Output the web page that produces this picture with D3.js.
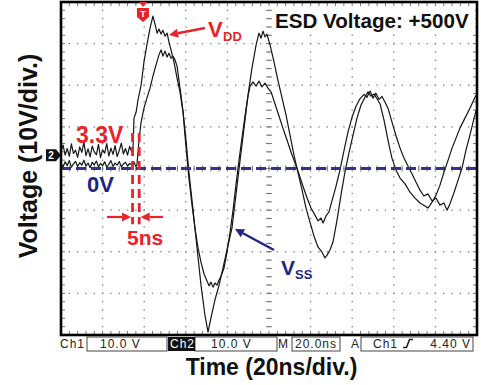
<!DOCTYPE html>
<html>
<head>
<meta charset="utf-8">
<script src="https://cdn.jsdelivr.net/npm/d3@7"></script>
<style>
  body { margin: 0; background: #fff; }
  svg { display: block; font-family: "Liberation Sans", Arial, sans-serif; }
</style>
</head>
<body>
<svg id="chart" width="481" height="385"></svg>
<script>
// scope settings: 20 ns/div over 10 div, 10 V/div over 8 div
const timeDomain = [0, 200];
const voltDomain = [-40, 40];
const majorTime = 20, minorTime = 4;
const majorVolt = 10, minorVolt = 2;

// VDD trace (starts at 3.3 V, rises first) : [ns, V]
const traceVdd = [
  [0,4.1],[1,5.6],[2,3.2],[3,4.8],[4,2.9],[5,5.9],[6,3.6],[7,4.4],[8,2.7],[9,5.2],
  [10,3.9],[11,6.3],[12,3.1],[13,4.7],[14,2.8],[15,5.4],[16,4.0],[17,3.3],[18,5.8],[19,2.6],
  [20,4.5],[21,3.7],[22,6.0],[23,3.0],[24,4.9],[25,3.4],[26,5.5],[27,2.9],[28,4.3],[29,6.1],
  [30,3.5],[31,4.8],[32,3.2],[33,5.3],[34,4.0],
  [34.6,4.4],[35.1,12.1],[36.1,13.5],[37.0,16.4],[38.5,20.0],[39.9,25.6],[41.3,29.7],[42.8,33.7],
  [44.2,36.6],[45.2,34.7],[46.2,32.5],[47.1,33.5],[48.1,32.3],[49.0,33.2],[50.0,31.8],[51.0,32.5],
  [51.9,30.4],[52.9,28.5],[54.3,25.6],[55.8,21.7],[57.2,18.4],[58.7,13.5],[60.1,6.8],[61.5,-0.9],
  [63.5,-10.0],[65.4,-19.1],[67.3,-28.0],[69.2,-35.2],[70.7,-39.3],[72.1,-35.9],[74.0,-31.6],
  [76.0,-28.0],[77.9,-23.9],[80.3,-18.4],[82.2,-14.3],[84.1,-6.4],[86.1,2.0],[88.0,9.7],
  [89.9,17.6],[91.8,24.1],[93.8,29.7],[95.2,32.5],[96.2,31.3],[97.1,33.0],[98.1,31.6],[99.0,32.3],
  [100.5,29.7],[102.4,25.6],[104.3,21.2],[106.3,16.9],[108.2,12.8],[110.1,8.0],[112.0,3.2],
  [113.9,-0.9],[115.9,-5.2],[117.8,-9.5],[119.7,-12.9],[121.6,-16.2],[123.6,-18.9],[125.5,-20.1],
  [126.9,-21.5],[127.9,-20.8],[129.3,-19.6],[130.8,-17.6],[132.7,-12.4],[134.6,-6.4],[136.5,-0.9],
  [138.5,3.9],[140.4,8.0],[142.3,12.1],[144.2,15.2],[146.2,17.2],[147.6,18.4],[149.0,17.4],
  [150.5,17.9],[152.0,16.7],[153.4,15.5],[155.3,11.6],[157.2,6.8],[159.1,2.5],[161.1,-0.4],
  [163.0,-2.3],[165.4,-3.7],[167.8,-5.7],[170.2,-7.1],[172.6,-8.3],[175.0,-9.0],[176.4,-9.5],
  [178.4,-8.1],[180.3,-6.4],[182.2,-4.0],[184.1,-0.9],[186.1,2.0],[188.0,4.9],[189.9,7.3],
  [191.8,9.7],[194.2,12.1],[196.6,14.5],[199.5,17.6]
];

// VSS trace (starts at 0 V, about 5 ns later) : [ns, V]
const traceVss = [
  [0,1.2],[1,0.4],[2,1.6],[3,0.7],[4,1.9],[5,0.3],[6,1.1],[7,1.7],[8,0.5],[9,1.4],
  [10,0.8],[11,2.0],[12,0.6],[13,1.3],[14,0.2],[15,1.5],[16,0.9],[17,1.8],[18,0.4],[19,1.2],
  [20,0.7],[21,1.6],[22,0.3],[23,1.0],[24,1.9],[25,0.5],[26,1.3],[27,0.8],[28,1.7],[29,0.4],
  [30,1.1],[31,1.5],[32,0.6],[33,1.2],[34,0.9],[35,1.6],[36,0.5],
  [36.5,0.8],[37.5,6.8],[38.5,11.1],[39.9,14.5],[41.3,16.9],[42.8,19.3],[44.2,22.2],[45.7,24.9],
  [47.1,27.3],[48.1,28.5],[49.0,27.0],[50.0,28.2],[51.0,26.8],[51.9,27.7],[52.9,26.5],[53.8,27.0],
  [54.8,26.1],[55.8,24.6],[56.7,21.2],[57.7,17.6],[58.7,13.5],[59.6,8.0],[60.6,2.5],[61.5,-2.3],
  [63.0,-8.8],[64.4,-14.3],[65.9,-19.1],[67.3,-22.5],[68.8,-25.4],[70.2,-27.0],[71.2,-28.2],
  [72.1,-27.3],[73.1,-28.5],[74.0,-27.5],[75.0,-28.0],[76.0,-26.8],[76.9,-25.9],[78.4,-23.9],
  [79.8,-20.1],[81.3,-15.3],[82.7,-10.0],[84.1,-4.0],[85.6,2.0],[87.0,7.3],[88.5,12.8],[89.9,17.4],
  [90.9,19.8],[92.3,20.8],[93.8,19.8],[95.2,21.0],[96.6,19.6],[98.1,20.5],[99.5,19.3],[101.0,18.4],
  [102.9,15.5],[104.8,12.6],[106.7,9.7],[108.7,6.8],[110.6,3.9],[112.5,1.3],[114.4,-1.3],
  [116.3,-4.2],[118.3,-7.1],[120.2,-9.5],[122.1,-11.2],[123.6,-12.6],[125.0,-11.9],[126.0,-13.1],
  [127.4,-11.4],[128.8,-10.5],[130.3,-7.7],[132.2,-4.3],[134.1,-0.4],[136.1,4.4],[138.0,8.8],
  [139.9,12.3],[141.8,14.9],[143.8,16.8],[145.7,17.8],[147.1,17.1],[148.6,18.6],[150.0,16.9],
  [151.4,18.1],[152.9,16.6],[154.3,17.3],[155.8,15.9],[157.2,14.5],[159.1,11.2],[161.1,7.8],
  [163.0,4.9],[164.9,2.5],[166.8,0.6],[168.8,-1.3],[170.7,-3.3],[172.6,-5.2],[174.5,-6.6],
  [176.4,-6.1],[178.4,-7.8],[180.3,-7.1],[182.2,-8.8],[184.1,-8.3],[185.6,-10.0],[187.0,-8.5],
  [189.0,-5.7],[190.9,-2.8],[192.8,0.1],[194.7,4.4],[196.6,8.0],[198.6,12.1],[200,14.7]
];

// annotation values
const triggerTime = 39.4;
const ch2Level = 3.2;
const delayMarks = [34.4, 37.6];    // the two red dashed lines (5 ns)
const delayRange = [8.5, -13.4];    // volts spanned by them
const statusLabels = ["Ch1", "10.0 V", "Ch2", "10.0 V", "M", "20.0ns", "A", "Ch1", "4.40 V"];

const RED = "#e8232a", NAVY = "#1f2585", BLUE = "#2a3594";

const svg = d3.select("#chart");
const x = d3.scaleLinear().domain(timeDomain).range([61, 477]);
const y = d3.scaleLinear().domain(voltDomain).range([335, 2]);
const [x0, x1] = x.range(), [y0, y1] = [y(voltDomain[1]), y(voltDomain[0])];

const majorT = d3.range(timeDomain[0], timeDomain[1] + 1, majorTime);
const minorT = d3.range(timeDomain[0], timeDomain[1] + 1, minorTime);
const majorV = d3.range(voltDomain[0], voltDomain[1] + 1, majorVolt);
const minorV = d3.range(voltDomain[0], voltDomain[1] + 1, minorVolt);

// dotted graticule
const dots = [];
majorT.slice(1, -1).forEach(t => minorV.forEach(v => dots.push([t, v])));
majorV.slice(1, -1).forEach(v => minorT.forEach(t => dots.push([t, v])));
svg.append("g").selectAll("rect").data(dots).join("rect")
  .attr("x", d => x(d[0]) - 0.7).attr("y", d => y(d[1]) - 0.7)
  .attr("width", 1.4).attr("height", 1.4).attr("fill", "#8a8a8a");

// minor ticks on centre lines and frame
const tickG = svg.append("g").attr("stroke", "#777").attr("stroke-width", 1);
const tc = x(100), vc = y(0);
minorV.forEach(v => {
  tickG.append("line").attr("x1", tc - 3).attr("x2", tc + 3).attr("y1", y(v)).attr("y2", y(v));
  tickG.append("line").attr("x1", x0).attr("x2", x0 + 4).attr("y1", y(v)).attr("y2", y(v));
  tickG.append("line").attr("x1", x1 - 4).attr("x2", x1).attr("y1", y(v)).attr("y2", y(v));
});
minorT.forEach(t => {
  tickG.append("line").attr("x1", x(t)).attr("x2", x(t)).attr("y1", vc - 3).attr("y2", vc + 3);
  tickG.append("line").attr("x1", x(t)).attr("x2", x(t)).attr("y1", y1 - 4).attr("y2", y1);
  tickG.append("line").attr("x1", x(t)).attr("x2", x(t)).attr("y1", y0).attr("y2", y0 + 4);
});

// traces
const line = d3.line().x(d => x(d[0])).y(d => y(d[1]));
[traceVss, traceVdd].forEach(tr => {
  svg.append("path").datum(tr).attr("d", line)
    .attr("fill", "none").attr("stroke", "#151515").attr("stroke-width", 1.2)
    .attr("stroke-linejoin", "round");
});

// 0 V reference line
svg.append("line").attr("x1", x0).attr("x2", x1).attr("y1", y(0)).attr("y2", y(0))
  .attr("stroke", BLUE).attr("stroke-width", 3).attr("stroke-dasharray", "10,5");

// frame
svg.append("rect").attr("x", x0).attr("y", y0).attr("width", x1 - x0).attr("height", y1 - y0)
  .attr("fill", "none").attr("stroke", "#000").attr("stroke-width", 2.6);

// red 5 ns markers
delayMarks.forEach(t => {
  svg.append("line").attr("x1", x(t)).attr("x2", x(t))
    .attr("y1", y(delayRange[0])).attr("y2", y(delayRange[1]))
    .attr("stroke", RED).attr("stroke-width", 2.8).attr("stroke-dasharray", "9,5");
});

function arrow(xa, ya, xb, yb, color, w) {
  // line from (xa,ya) to head at (xb,yb)
  const ang = Math.atan2(yb - ya, xb - xa), L = 9, H = 4.5;
  const bx = xb - L * Math.cos(ang), by = yb - L * Math.sin(ang);
  svg.append("line").attr("x1", xa).attr("y1", ya).attr("x2", bx).attr("y2", by)
    .attr("stroke", color).attr("stroke-width", w);
  svg.append("path").attr("fill", color).attr("d",
    `M${xb},${yb}L${bx - H * Math.sin(ang)},${by + H * Math.cos(ang)}L${bx + H * Math.sin(ang)},${by - H * Math.cos(ang)}Z`);
}
const ay = 217;
arrow(107, ay, x(delayMarks[0]) - 1.5, ay, RED, 2.2);
arrow(163, ay, x(delayMarks[1]) + 1.5, ay, RED, 2.2);
arrow(205, 28, 169, 35, RED, 2.4);
arrow(274, 250, 235, 229, NAVY, 2.4);

// text labels
function label(txt, px, py, size, color, anchor) {
  return svg.append("text").attr("x", px).attr("y", py).attr("font-size", size)
    .attr("font-weight", "bold").attr("fill", color).attr("text-anchor", anchor || "start").text(txt);
}
label("3.3V", 76, 143, 23, RED);
label("0V", 87, 192, 22, NAVY);
label("5ns", 127, 245, 21, RED);
label("V", 208, 37, 22, RED);
label("DD", 223, 41, 13, RED);
label("V", 281, 275, 21, NAVY);
label("SS", 295, 279, 13, NAVY);

svg.append("rect").attr("x", 272).attr("y", 9).attr("width", 203).attr("height", 22).attr("fill", "#fff");
label("ESD Voltage: +500V", 275, 28, 20.6, "#111");

// trigger marker
const tx = x(triggerTime);
svg.append("path").attr("fill", RED)
  .attr("d", `M${tx - 4},2H${tx + 4}L${tx},7Z M${tx - 6},8H${tx + 6}V17L${tx},22L${tx - 6},17Z`);
svg.append("text").attr("x", tx).attr("y", 17).attr("font-size", 9).attr("font-weight", "bold")
  .attr("fill", "#fff").attr("text-anchor", "middle").text("T");

// ch2 ground marker
const cy = y(ch2Level);
svg.append("path").attr("fill", "#111")
  .attr("d", `M46,${cy - 6}H56L${x0},${cy}L56,${cy + 6}H46Z`);
svg.append("text").attr("x", 51).attr("y", cy + 4).attr("font-size", 10).attr("font-weight", "bold")
  .attr("fill", "#fff").attr("text-anchor", "middle").text("2");

// status bar
const sb = svg.append("g").attr("font-size", 12).attr("fill", "#222").attr("letter-spacing", 1);
const by0 = 337, bh = 14, bt = 348;
[[87, 167], [195, 277], [292, 340], [361, 473]].forEach(([a, b]) => {
  sb.append("rect").attr("x", a).attr("y", by0).attr("width", b - a).attr("height", bh)
    .attr("fill", "none").attr("stroke", "#444").attr("stroke-width", 1);
});
sb.append("rect").attr("x", 168).attr("y", by0).attr("width", 27).attr("height", bh).attr("fill", "#111");
sb.append("text").attr("x", 60).attr("y", bt).text(statusLabels[0]);
sb.append("text").attr("x", 100).attr("y", bt).text(statusLabels[1]);
sb.append("text").attr("x", 170).attr("y", bt).attr("fill", "#fff").text(statusLabels[2]);
sb.append("text").attr("x", 211).attr("y", bt).text(statusLabels[3]);
sb.append("text").attr("x", 278).attr("y", bt).attr("letter-spacing", 0).text(statusLabels[4]);
sb.append("text").attr("x", 295).attr("y", bt).text(statusLabels[5]);
sb.append("text").attr("x", 351).attr("y", bt).text(statusLabels[6]);
sb.append("text").attr("x", 373).attr("y", bt).text(statusLabels[7]);
sb.append("path").attr("d", "M403,347.5H406.5L409.5,339.5H413").attr("fill", "none")
  .attr("stroke", "#222").attr("stroke-width", 1.6);
sb.append("text").attr("x", 471).attr("y", bt).attr("text-anchor", "end").text(statusLabels[8]);

// axis titles
label("Time (20ns/div.)", 271.5, 375, 23, "#111", "middle");
svg.append("text").attr("transform", "translate(37,156) rotate(-90)")
  .attr("font-size", 25).attr("font-weight", "bold").attr("fill", "#111")
  .attr("text-anchor", "middle").text("Voltage (10V/div.)");
</script>
</body>
</html>
